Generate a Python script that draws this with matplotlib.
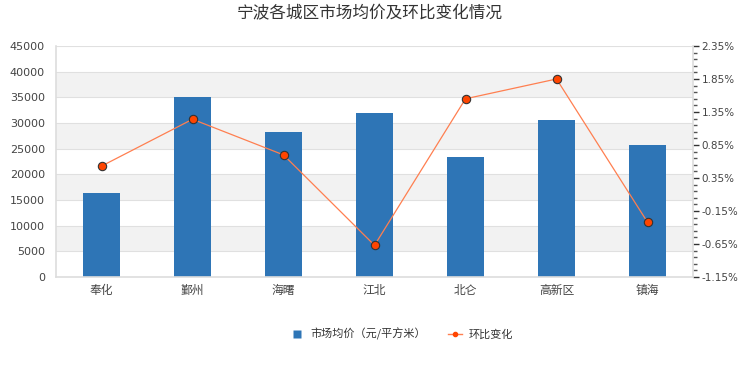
import matplotlib
matplotlib.use("Agg")
import matplotlib.pyplot as plt
from matplotlib.ticker import FixedLocator
from matplotlib.lines import Line2D
import numpy as np

plt.rcParams['font.family'] = ['Noto Sans CJK SC', 'DejaVu Sans']

categories = ['奉化', '鄞州', '海曙', '江北', '北仑', '高新区', '镇海']
avg_price = [16400, 35000, 28300, 32000, 23400, 30600, 25700]
mom_change = [0.53, 1.24, 0.70, -0.67, 1.55, 1.85, -0.32]
left_ticks = list(range(0, 45001, 5000))
right_ticks = [-1.15, -0.65, -0.15, 0.35, 0.85, 1.35, 1.85, 2.35]

fig = plt.figure(figsize=(7.4, 3.7), dpi=100)
ax = fig.add_axes([0.0757, 0.2514, 0.8608, 0.6243])
x = np.arange(len(categories))

# alternating bands
for i, lo in enumerate(left_ticks[:-1]):
    if i % 2 == 1:
        ax.axhspan(lo, lo + 5000, color='#f2f2f2', zorder=0, lw=0)
for t in left_ticks[1:]:
    ax.axhline(t, color='#e0e0e0', lw=0.8, zorder=0.5)

ax.bar(x, avg_price, width=0.4, color='#2e75b6', zorder=2)
ax.set_xlim(-0.5, len(categories) - 0.5)
ax.set_ylim(0, 45000)
ax.set_yticks(left_ticks)
ax.set_yticklabels([str(t) for t in left_ticks], fontsize=8, color='#444444',
                   family='DejaVu Sans')
ax.set_xticks(x)
ax.set_xticklabels(categories, fontsize=8.5, color='#444444')
ax.tick_params(axis='y', length=0, pad=8)
ax.tick_params(axis='x', length=0, pad=5)
for s in ['top', 'right']:
    ax.spines[s].set_visible(False)
for s in ['left', 'bottom']:
    ax.spines[s].set_color('#dddddd')
    ax.spines[s].set_linewidth(1.2)

ax2 = ax.twinx()
ax2.plot(x, mom_change, color='#ff7f50', lw=0.9, marker='o', markersize=6,
         markerfacecolor='#ff4500', markeredgecolor='#333333', markeredgewidth=0.8,
         zorder=3)
ax2.set_ylim(-1.15, 2.35)
ax2.yaxis.set_major_locator(FixedLocator(right_ticks))
ax2.yaxis.set_minor_locator(FixedLocator(np.round(np.arange(-1.15, 2.351, 0.1), 2)))
ax2.set_yticklabels(['%.2f%%' % t for t in right_ticks], fontsize=7.5, color='#444444',
                    family='DejaVu Sans')
ax2.tick_params(axis='y', which='major', length=4, width=1, color='#333333', pad=2)
ax2.tick_params(axis='y', which='minor', length=3, width=1, color='#555555')
for s in ['top', 'left', 'bottom']:
    ax2.spines[s].set_visible(False)
ax2.spines['right'].set_color('#dddddd')
ax2.spines['right'].set_linewidth(1.2)

fig.text(0.5, 0.962, '宁波各城区市场均价及环比变化情况', ha='center', va='center',
         fontsize=12, color='#333333')

h1 = Line2D([], [], marker='s', color='none', markerfacecolor='#2e75b6',
            markeredgecolor='none', markersize=6)
h2 = Line2D([], [], color='#ff7f50', lw=1, marker='o', markersize=3,
            markerfacecolor='#ff4500', markeredgecolor='#ff4500')
fig.legend([h1, h2], ['市场均价（元/平方米）', '环比变化'], loc='center',
           bbox_to_anchor=(0.543, 0.097), ncol=2, frameon=False, fontsize=8,
           handlelength=1.2, columnspacing=2.0, handletextpad=0.6, labelcolor='#333333')

fig.savefig('out.png', dpi=100)
